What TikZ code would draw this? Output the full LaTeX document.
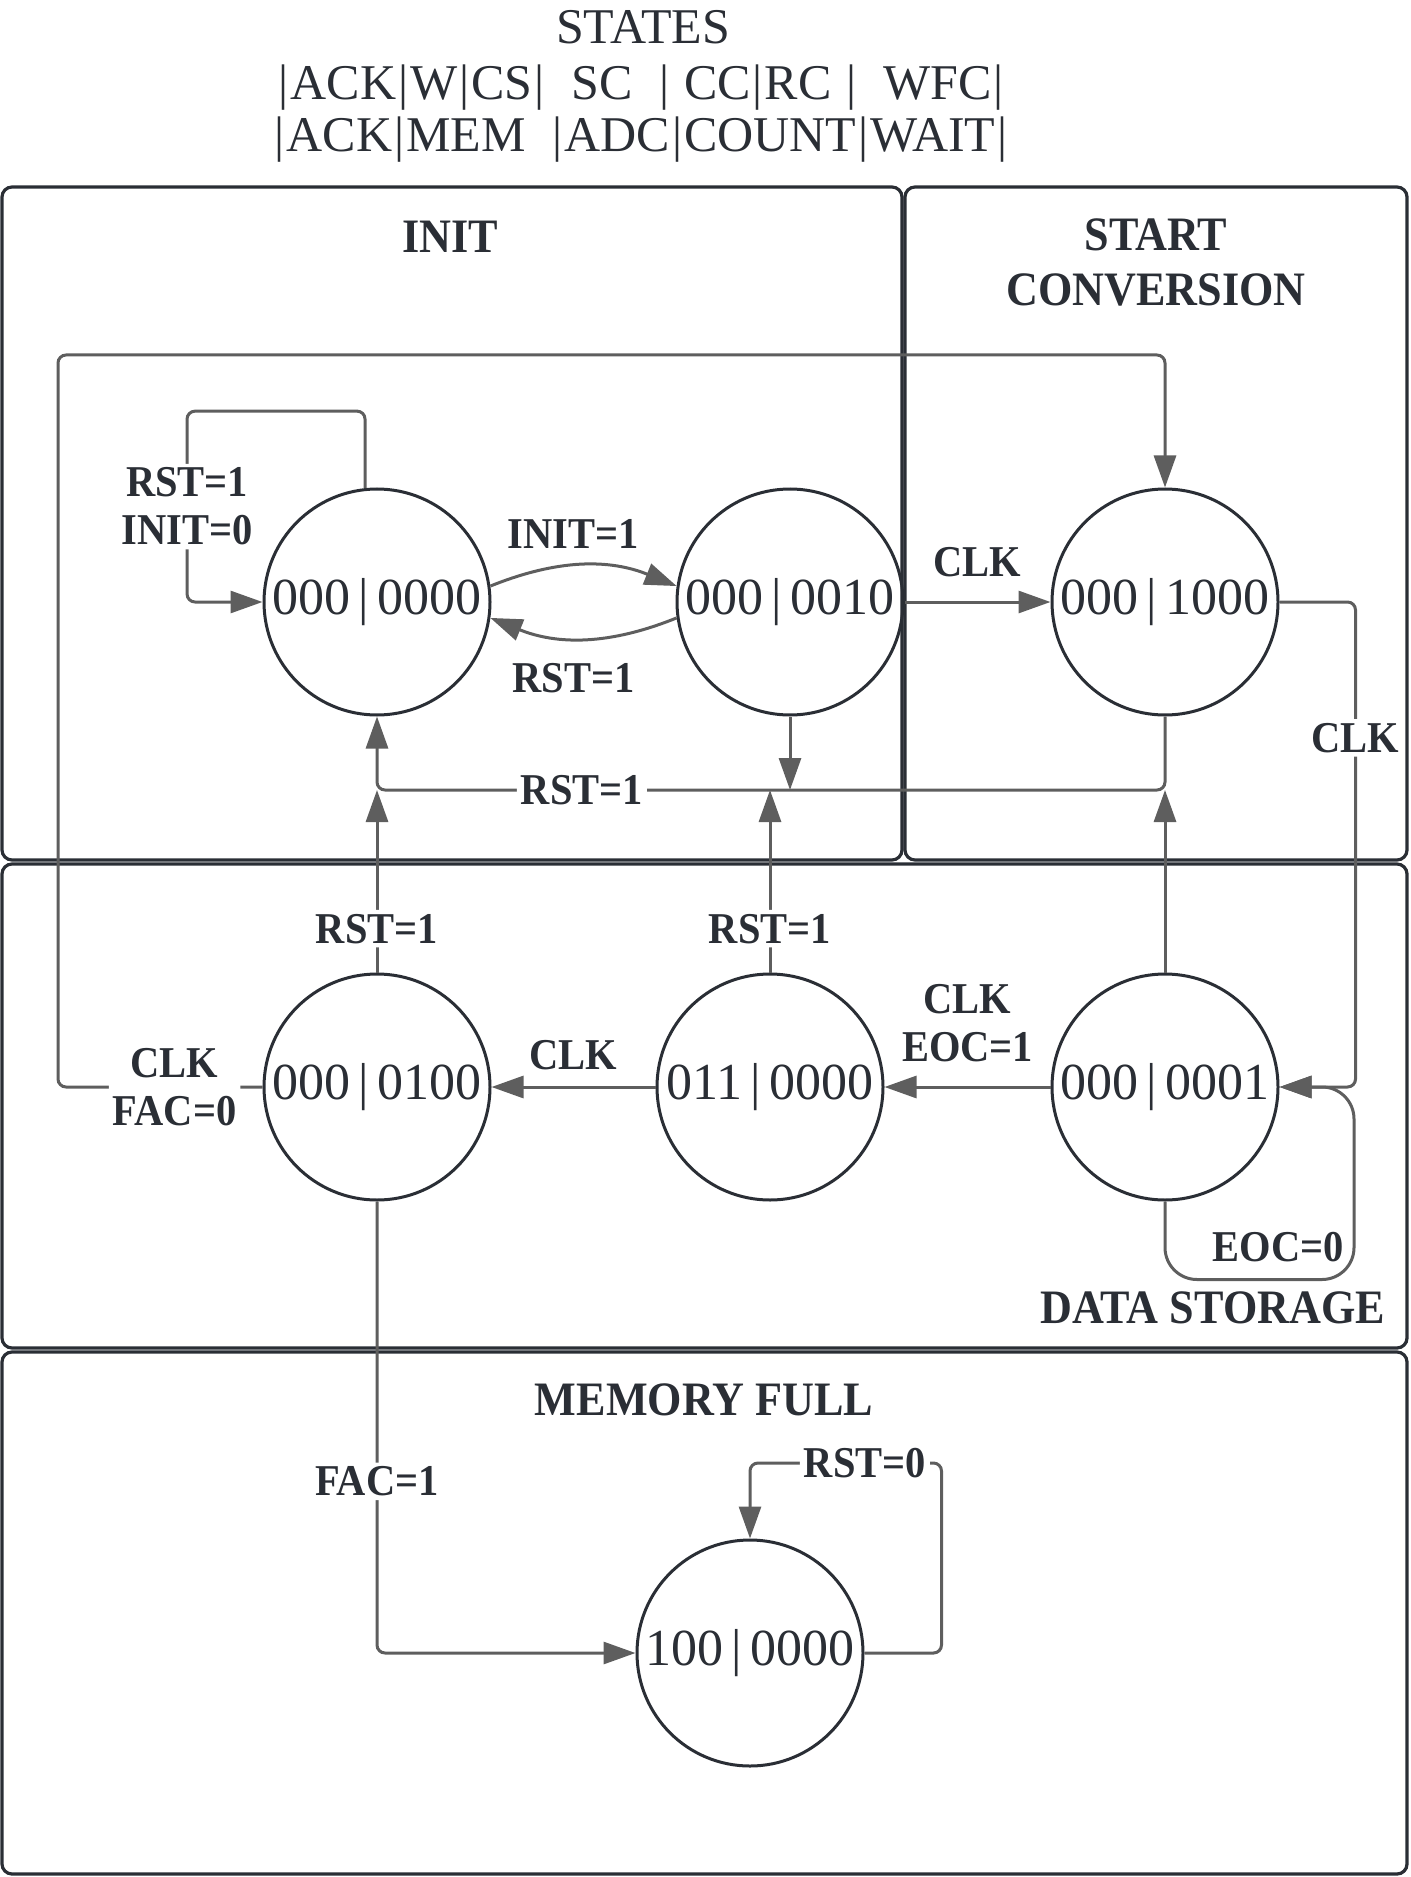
\documentclass[tikz,border=0pt]{standalone}
\usepackage{fontspec}
\setmainfont{Liberation Serif}
\newfontfamily\lblfont[FakeStretch=0.92]{Liberation Serif}
\usetikzlibrary{arrows.meta}

\definecolor{ink}{HTML}{2A2E35}
\definecolor{wire}{HTML}{5E5E5E}

\newcommand*{\busy}{790}
\newcommand*{\wrapx}{58}
\newcommand*{\wrapy}{355}
\newcommand*{\sep}{\kern1pt|\kern1pt}

\begin{document}
\begin{tikzpicture}
[
	x=0.5pt,y=-0.5pt,
	region/.style={draw=ink,line width=1.6pt,rounded corners=5pt},
	state/.style={circle,draw=ink,line width=1.5pt,minimum size=113pt,inner sep=0pt,text=ink,font=\fontsize{26}{30}\selectfont},
	conn/.style={draw=wire,line width=1.5pt,rounded corners=4pt,-{Triangle[length=16pt,width=11pt]}},
	lbl/.style={fill=white,text=ink,inner sep=2pt,align=center,font=\lblfont\bfseries\fontsize{22}{24}\selectfont},
	title/.style={text=ink,align=center,font=\lblfont\bfseries\fontsize{24}{27.5}\selectfont},
	head/.style={text=ink,font=\fontsize{25}{30}\selectfont}
]
	\useasboundingbox (0,0) rectangle (1410,1877);

	% header
	\node[head] (hstates) at (643,27) {STATES};
	\node[head] (hbits) at (641,88) {\sep ACK\sep W\sep CS\sep\ \ SC\ \ \sep\ CC\sep RC\ \sep\ \ WFC\sep};
	\node[head] (hnames) at (641,140) {\sep ACK\sep MEM\ \ \sep ADC\sep COUNT\sep WAIT\sep};

	% regions
	\draw[region] (2,187) rectangle (902,860);
	\draw[region] (905,187) rectangle (1407,860);
	\draw[region] (2,864) rectangle (1407,1348);
	\draw[region] (2,1352) rectangle (1407,1874);

	\node[title] (tinit) at (450,237) {INIT};
	\node[title] (tstart) at (1156,262) {START\\CONVERSION};
	\node[title,anchor=east] (tdata) at (1392,1308) {DATA STORAGE};
	\node[title] (tmem) at (704,1400) {MEMORY FULL};

	% states
	\node[state] (s0) at (377,602) {000\,|\,0000};
	\node[state] (s1) at (790,602) {000\,|\,0010};
	\node[state] (s2) at (1165,602) {000\,|\,1000};
	\node[state] (s3) at (1165,1087) {000\,|\,0001};
	\node[state] (s4) at (770,1087) {011\,|\,0000};
	\node[state] (s5) at (377,1087) {000\,|\,0100};
	\node[state] (s6) at (750,1653) {100\,|\,0000};

	\coordinate (bus) at (377,\busy);
	\coordinate (wrap) at (\wrapx,\wrapy);

	% init
	\draw[conn] (s0.96) |- ++(-178,-77) |- node[lbl,pos=0.25]{RST=1\\INIT=0} (s0.west);
	\draw[conn] (s0.8) to[bend left=22] node[lbl,above=6pt,xshift=-5pt]{INIT=1} (s1.172);
	\draw[conn] (s1.188) to[bend left=22] node[lbl,below=10pt,xshift=-5pt]{RST=1} (s0.352);
	\draw[conn] (s1.east) -- node[lbl,above=10pt]{CLK} (s2.west);

	% reset bus
	\draw[conn] (s2.south) |- node[lbl,pos=0.87]{RST=1} (bus) -- (s0.south);
	\draw[conn] (s1.south) -- (s1.south |- bus);
	\draw[conn] (s3.north) -- (s3.north |- bus);
	\draw[conn] (s4.north) -- node[lbl,pos=0.24]{RST=1} (s4.north |- bus);
	\draw[conn] (s5.north) -- node[lbl,pos=0.24]{RST=1} (s5.north |- bus);

	% data storage
	\draw[conn] (s2.east) -- ++(76,0) |- node[lbl,pos=0.14]{CLK} (s3.east);
	\draw[conn,rounded corners=16pt] (s3.south) |- node[lbl,pos=0.8,above=6pt]{EOC=0} ++(189,78) |- (s3.east);
	\draw[conn] (s3.west) -- node[lbl,above=10pt]{CLK\\EOC=1} (s4.east);
	\draw[conn] (s4.west) -- node[lbl,above=6pt]{CLK} (s5.east);
	\draw[conn] (s5.west) -- node[lbl,pos=0.43]{CLK\\FAC=0} (s5.west -| wrap) -- (wrap) -| (s2.north);

	% memory full
	\draw[conn] (s5.south) |- node[lbl,pos=0.31]{FAC=1} (s6.west);
	\draw[conn] (s6.east) -- ++(77,0) -- ++(0,-190) -| node[lbl,pos=0.2]{RST=0} (s6.north);

\end{tikzpicture}
\end{document}
